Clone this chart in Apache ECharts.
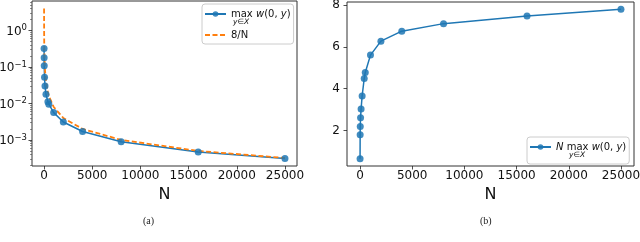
<!DOCTYPE html>
<html>
<head>
<meta charset="utf-8">
<script src="https://cdn.jsdelivr.net/npm/echarts@6/dist/echarts.min.js"></script>
<style>
html,body{margin:0;padding:0;background:#fff;}
#c{width:640px;height:242px;}
</style>
</head>
<body>
<div id="c"></div>
<script>
// ---- data ----
const N = [2, 10, 20, 50, 100, 200, 400, 500, 1000, 2000, 4000, 8000, 16000, 25000];
const maxW = [0.32, 0.178, 0.108, 0.052, 0.030, 0.0178, 0.0111, 0.0095, 0.0056, 0.0031, 0.0017, 0.00089, 0.00047, 0.00031];
const eightOverN = [4, 0.8, 0.4, 0.16, 0.08, 0.04, 0.02, 0.016, 0.008, 0.004, 0.002, 0.001, 0.0005, 0.00032];
const NmaxW = [0.64, 1.79, 2.19, 2.61, 3.03, 3.65, 4.49, 4.78, 5.61, 6.28, 6.76, 7.12, 7.49, 7.81];
const xTicks = [0, 5000, 10000, 15000, 20000, 25000];
const logTicks = [0.001, 0.01, 0.1, 1];
const linTicks = [2, 4, 6, 8];
const captions = ['(a)', '(b)'];

const BLUE = '#1f77b4', ORANGE = '#ff7f0e', INK = '#111';
const FONT = 'DejaVu Sans';

const minorLog = [];
for (let d = -4; d <= 0; d++) for (let k = 2; k <= 9; k++) minorLog.push(k * Math.pow(10, d));

const chart = echarts.init(document.getElementById('c'), null, {renderer: 'canvas'});

function xAxisCfg(gi) {
  return {
    type: 'value', gridIndex: gi, min: -1250, max: 26250,
    axisLine: {show: false, onZero: false},
    splitLine: {show: false},
    axisTick: {show: true, inside: false, length: 3.5, customValues: xTicks, lineStyle: {color: '#222', width: 0.8}},
    axisLabel: {customValues: xTicks, margin: 4, color: INK, fontFamily: FONT, fontSize: 12,
      formatter: function (v) { return String(v); }},
    name: 'N', nameLocation: 'middle', nameGap: 15,
    nameTextStyle: {fontFamily: FONT, fontSize: 16, color: INK}
  };
}

const legendRich = {
  sp: {fontSize: 4, lineHeight: 4},
  r: {fontFamily: FONT, fontSize: 10, color: INK, lineHeight: 12},
  i: {fontFamily: FONT, fontSize: 10, fontStyle: 'italic', color: INK, lineHeight: 12},
  sub: {fontFamily: FONT, fontSize: 7.5, fontStyle: 'italic', color: INK, lineHeight: 4, padding: [0, 0, 0, 2]},
  sub2: {fontFamily: FONT, fontSize: 7.5, fontStyle: 'italic', color: INK, lineHeight: 4, padding: [0, 0, 0, 13]}
};

function legendFormatter(name) {
  if (name === 'maxw') return '{sp| }\n{r|max }{i|w}{r|(0, }{i|y}{r|)}\n{sub|y∈X}';
  if (name === 'Nmaxw') return '{sp| }\n{i|N}{r| max }{i|w}{r|(0, }{i|y}{r|)}\n{sub2|y∈X}';
  return '{r|' + name + '}';
}

const gridBase = {show: true, borderColor: '#333', borderWidth: 1, backgroundColor: 'transparent', outerBoundsMode: 'none', containLabel: false};

const option = {
  backgroundColor: '#fff',
  animation: false,
  grid: [
    Object.assign({left: 32, top: 1, width: 265, height: 165}, gridBase),
    Object.assign({left: 347, top: 2, width: 287, height: 164}, gridBase)
  ],
  xAxis: [xAxisCfg(0), xAxisCfg(1)],
  yAxis: [
    {
      type: 'log', logBase: 10, gridIndex: 0, position: 'left', min: 0.000193, max: 6.41,
      axisLine: {show: false, onZero: false}, splitLine: {show: false},
      axisTick: {show: true, length: 3.5, customValues: logTicks, lineStyle: {color: '#222', width: 0.8}},
      axisLabel: {
        customValues: logTicks, margin: 5, color: INK, fontFamily: FONT, fontSize: 12,
        formatter: function (v) {
          const e = Math.round(Math.log10(v));
          return '{b|10}{s|' + (e < 0 ? '\u2212' + (-e) : e) + '}';
        },
        rich: {
          b: {fontFamily: FONT, fontSize: 12, color: INK, lineHeight: 14, verticalAlign: 'bottom'},
          s: {fontFamily: FONT, fontSize: 8.5, color: INK, lineHeight: 14, verticalAlign: 'top'}
        }
      }
    },
    {
      type: 'log', logBase: 10, gridIndex: 0, position: 'left', offset: 0, min: 0.000193, max: 6.41,
      axisLine: {show: false, onZero: false}, splitLine: {show: false},
      axisTick: {show: true, length: 2, customValues: minorLog, lineStyle: {color: '#444', width: 0.6}},
      axisLabel: {show: false}
    },
    {
      type: 'value', gridIndex: 1, position: 'left', min: 0.2925, max: 8.1575,
      axisLine: {show: false, onZero: false}, splitLine: {show: false},
      axisTick: {show: true, length: 3.5, customValues: linTicks, lineStyle: {color: '#222', width: 0.8}},
      axisLabel: {customValues: linTicks, margin: 7, color: INK, fontFamily: FONT, fontSize: 12}
    }
  ],
  legend: [
    {
      data: ['maxw', {name: '8/N', itemStyle: {opacity: 0}}], orient: 'vertical', left: 202, top: 4,
      itemWidth: 21, itemHeight: 7, itemGap: 4,
      padding: [0, 3, 4, 2],
      borderColor: '#ccc', borderWidth: 1, borderRadius: 3, backgroundColor: 'rgba(255,255,255,0.8)',
      formatter: legendFormatter,
      textStyle: {fontFamily: FONT, fontSize: 10, color: INK, rich: legendRich}
    },
    {
      data: ['Nmaxw'], orient: 'vertical', left: 527, top: 137,
      itemWidth: 21, itemHeight: 7, itemGap: 3,
      padding: [0, 3, 5, 2],
      borderColor: '#ccc', borderWidth: 1, borderRadius: 3, backgroundColor: 'rgba(255,255,255,0.8)',
      formatter: legendFormatter,
      textStyle: {fontFamily: FONT, fontSize: 10, color: INK, rich: legendRich}
    }
  ],
  series: [
    {
      name: 'maxw', type: 'line', xAxisIndex: 0, yAxisIndex: 0,
      data: N.map((n, i) => [n, maxW[i]]),
      symbol: 'circle', symbolSize: 7,
      lineStyle: {color: BLUE, width: 1.5},
      itemStyle: {color: BLUE, opacity: 0.85}
    },
    {
      name: '8/N', type: 'line', xAxisIndex: 0, yAxisIndex: 0,
      data: N.map((n, i) => [n, eightOverN[i]]),
      symbol: 'none',
      lineStyle: {color: ORANGE, width: 1.8, type: [5, 2.5]},
      itemStyle: {color: ORANGE}
    },
    {
      name: 'Nmaxw', type: 'line', xAxisIndex: 1, yAxisIndex: 2,
      data: N.map((n, i) => [n, NmaxW[i]]),
      symbol: 'circle', symbolSize: 7,
      lineStyle: {color: BLUE, width: 1.5},
      itemStyle: {color: BLUE, opacity: 0.85}
    }
  ],
  graphic: [
    {type: 'text', left: 143, top: 216, style: {text: captions[0], font: '10px "Liberation Serif"', fill: '#222'}},
    {type: 'text', left: 480, top: 216, style: {text: captions[1], font: '10px "Liberation Serif"', fill: '#222'}}
  ]
};
chart.setOption(option);
</script>
</body>
</html>
